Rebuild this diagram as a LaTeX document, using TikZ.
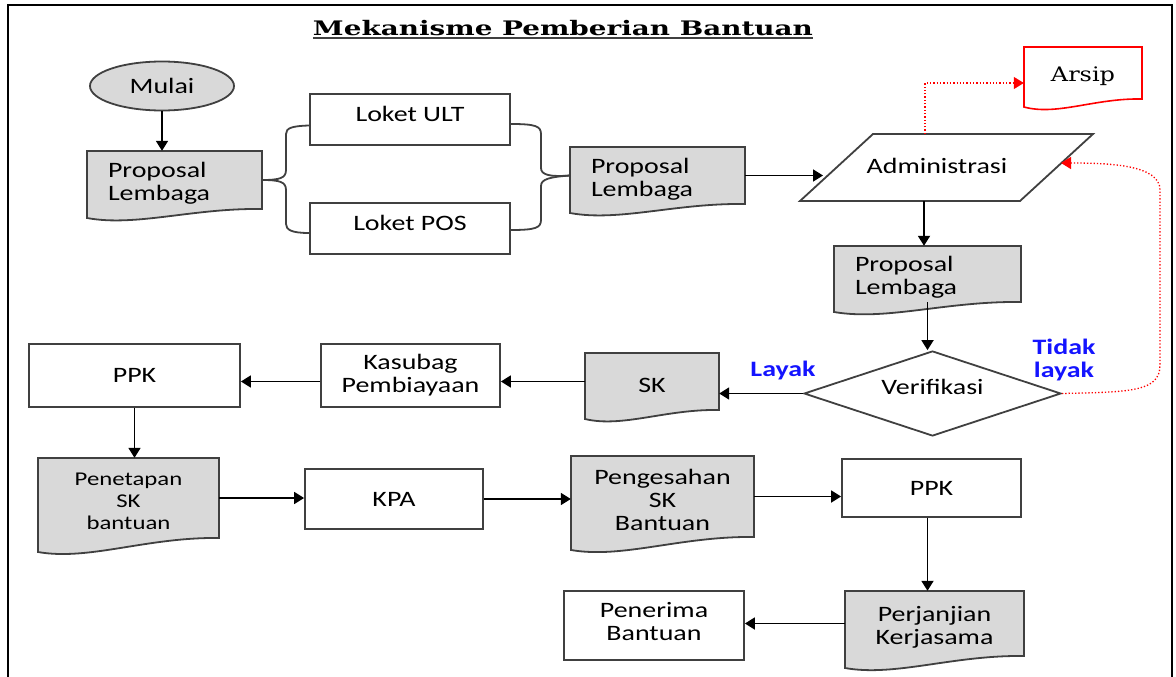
\documentclass[tikz,border=0pt]{standalone}
\usepackage{graphicx}
\usepackage{fontspec}
\setmainfont{Carlito}[FakeStretch=1.27]
\newfontfamily\serifx{DejaVu Serif}[FakeStretch=1.2]
\newfontfamily\titlef{DejaVu Serif}
\usetikzlibrary{arrows.meta,shapes.geometric,calc}
\definecolor{docgray}{RGB}{217,217,217}
\definecolor{edge}{RGB}{64,64,64}
\definecolor{lblblue}{RGB}{20,20,255}
\tikzset{
 box/.style={draw=edge, line width=1.8pt, fill=white, rectangle, inner sep=0, align=center, font=\fontsize{22}{23}\selectfont},
 docpath/.style={draw=edge, line width=1.8pt, fill=docgray},
 redpath/.style={draw=red, line width=1.6pt, fill=white},
 docbox/.style={rectangle, inner sep=0},
 doctext/.style={rectangle, inner sep=0, align=center, yshift=-3.5pt, font=\fontsize{22}{23}\selectfont},
 arr/.style={draw=black, line width=1.8pt, -{Triangle[length=10pt,width=12pt]}},
 redarr/.style={draw=red, line width=1.3pt, dotted, -{Triangle[length=10pt,width=12pt]}},
 brace/.style={draw=edge, line width=1.8pt},
 lbl/.style={text=lblblue, font=\fontsize{22}{23}\selectfont\bfseries, align=center, inner sep=0},
}
% #1 path style, #2 text options, #3 name, #4 L, #5 T, #6 R, #7 bottom right, #8 bottom left, #9 text
\newcommand\docnode[9]{%
 \path[#1] (#4,#5) -- (#6,#5) -- (#6,#7) .. controls ({#6-0.4*(#6-#4)},{#7-1}) and ({#4+0.28*(#6-#4)},{#8+9}) .. (#4,#8) -- cycle;
 \node[docbox, minimum width={(#6-#4)*1pt}, minimum height={(#7-#5)*1pt}] (#3) at ({(#4+#6)/2},{(#5+#7)/2}) {};
 \node[doctext, #2] (#3-t) at (#3.center) {#9};
}
\begin{document}
\begin{tikzpicture}[x=1pt,y=-1pt]
\useasboundingbox (0,0) rectangle (1176,677);
% frame
\draw[line width=2pt] (8,690) -- (8,5) -- (1172,5) -- (1172,690);
% title
\node[inner sep=0, anchor=base, font=\titlef\bfseries\fontsize{20}{20}\selectfont] (title) at (563,35.3) {\resizebox{500pt}{\height}{Mekanisme Pemberian Bantuan}};
\draw[line width=2pt, draw=edge] ([yshift=-3pt]title.base west) -- ([yshift=-3pt]title.base east);

% top row
\node[box, ellipse, fill=docgray, minimum width=144pt, minimum height=49pt] (mulai) at (162,86) {Mulai};
\docnode{docpath}{text width=133pt, align=left}{p1}{87}{151}{262}{209}{218}{Proposal\\Lembaga}
\draw[arr] (mulai.south) -- (mulai.south |- p1.north);

\node[box, minimum width=200pt, minimum height=51pt, text depth=12pt] (ult) at (410,119.5) {Loket ULT};
\node[box, minimum width=200pt, minimum height=51pt, text depth=12pt] (pos) at (410,228.5) {Loket POS};

\docnode{docpath}{text width=133pt, align=left}{p2}{570}{147}{745}{204}{213}{Proposal\\Lembaga}

\draw[brace] (p1.east) .. controls (280,180) and (286,178) .. (286,170) -- (286,134) .. controls (286,128) and (292,126) .. ([yshift=-6pt]ult.west);
\draw[brace] (p1.east) .. controls (280,180) and (286,182) .. (286,190) -- (286,224) .. controls (286,230) and (292,233) .. ([yshift=-4.5pt]pos.west);
\draw[brace] ([yshift=-4.5pt]ult.east) .. controls (535,124) and (541,126) .. (541,134) -- (541,168) .. controls (541,175) and (550,177) .. (p2.west);
\draw[brace] ([yshift=-1.5pt]pos.east) .. controls (535,230) and (541,228) .. (541,220) -- (541,186) .. controls (541,179) and (550,177) .. (p2.west);

% Administrasi parallelogram
\coordinate (admTL) at (873,134);
\coordinate (admTR) at (1093,134);
\coordinate (admBR) at (1020,201);
\coordinate (admBL) at (800,201);
\coordinate (admL) at (823,175.5);
\coordinate (admB) at (924,201);
\coordinate (admT) at (925,134);
\coordinate (admR) at (1061,163);
\draw[line width=1.8pt, draw=edge, fill=white] (admBL) -- (admTL) -- (admTR) -- (admBR) -- cycle;
\node[box, draw=none, fill=none] (adm) at (937,166) {Administrasi};
\draw[arr] (p2.east) -- (admL);

% Arsip
\docnode{redpath}{font=\serifx\fontsize{20}{22}\selectfont}{arsip}{1024}{47}{1142}{99}{107}{Arsip}
\draw[redarr] (admT) |- ([yshift=-10pt]arsip.west);

% Proposal 3
\docnode{docpath}{text width=145pt, align=left}{p3}{834}{246}{1021}{302}{312}{Proposal\\Lembaga}
\draw[arr] (admB) -- (admB |- p3.north);

% Verifikasi
\node[box, diamond, aspect=3, minimum width=257pt, minimum height=85pt, text depth=13pt] (ver) at (932.5,393.5) {Verifikasi};
\draw[arr] (p3.south) -- (p3.south |- ver.north);
\node[lbl] (layak) at (783,371) {Layak};
\node[lbl] (tidak) at (1064,360) {Tidak\\layak};
\draw[redarr] (ver.east) .. controls (1130,392) and (1160,392) .. (1160,365) -- (1160,190) .. controls (1160,165) and (1110,163) .. (admR);

% SK row
\docnode{docpath}{}{sk}{585}{353}{719}{410}{419}{SK}
\draw[arr] (ver.west) -- (ver.west -| sk.east);
\node[box, minimum width=179pt, minimum height=63pt] (kas) at (410.5,375.5) {Kasubag\\Pembiayaan};
\node[box, minimum width=211pt, minimum height=63pt] (ppk1) at (134.5,375.5) {PPK};
\draw[arr] (sk.west) -- (sk.west -| kas.east);
\draw[arr] (kas.west |- sk.west) -- (ppk1.east |- sk.west);

% third row
\docnode{docpath}{font=\fontsize{19.5}{22}\selectfont}{pen}{38}{458}{219}{538}{552}{Penetapan\\SK\\bantuan}
\draw[arr] (ppk1.south) -- (ppk1.south |- pen.north);
\node[box, minimum width=178pt, minimum height=60pt] (kpa) at (394,499) {KPA};
\draw[arr] (pen.east) -- (pen.east -| kpa.west);
\docnode{docpath}{}{peng}{571}{456}{754}{537}{550}{Pengesahan\\SK\\Bantuan}
\draw[arr] (kpa.east) -- (kpa.east -| peng.west);
\node[box, minimum width=179pt, minimum height=58pt] (ppk2) at (931.5,488) {PPK};
\draw[arr] (peng.east) -- (peng.east -| ppk2.west);

% bottom row
\docnode{docpath}{}{perj}{845}{591}{1024}{656}{668}{Perjanjian\\Kerjasama}
\draw[arr] ([xshift=-4pt]ppk2.south) -- ([xshift=-4pt]ppk2.south |- perj.north);
\node[box, minimum width=180pt, minimum height=69pt, text depth=8pt] (pnr) at (654,625.5) {Penerima\\Bantuan};
\draw[arr] (perj.west) -- (perj.west -| pnr.east);
\end{tikzpicture}
\end{document}
